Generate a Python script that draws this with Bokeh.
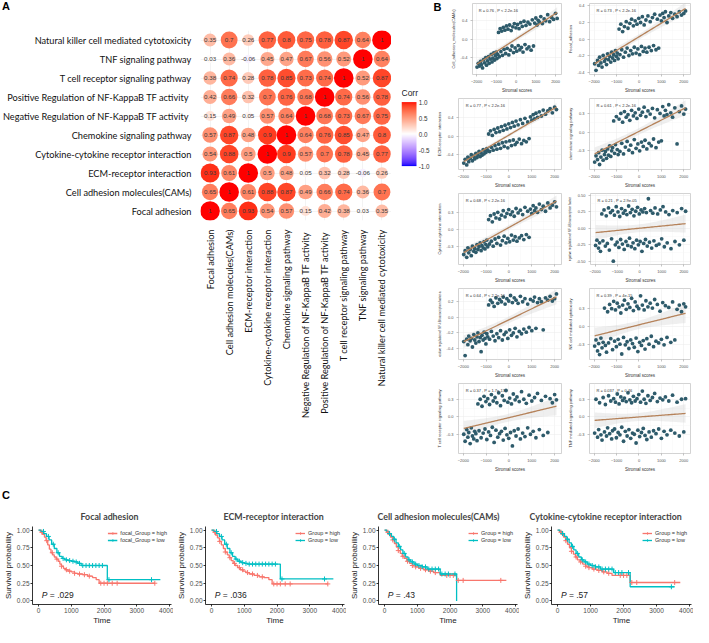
import numpy as np
from bokeh.plotting import figure
from bokeh.models import (ColumnDataSource, LinearColorMapper, Label, FixedTicker, LinearAxis,
                          Range1d, FactorRange, Legend, LegendItem, PrintfTickFormatter,
                          CustomJSTickFormatter, Div)
from bokeh.layouts import row, column
from bokeh.embed import file_html
from bokeh.resources import INLINE
from bokeh.core.properties import value

# ---------------------------------------------------------------- data: panel A
pathways = ["Focal adhesion", "Cell adhesion molecules(CAMs)", "ECM-receptor interaction",
            "Cytokine-cytokine receptor interaction", "Chemokine signaling pathway",
            "Negative Regulation of NF-KappaB  TF activity",
            "Positive Regulation of NF-KappaB  TF activity",
            "T cell receptor signaling pathway", "TNF signaling pathway",
            "Natural killer cell mediated cytotoxicity"]
corr_focal = [1, 0.65, 0.93, 0.54, 0.57, 0.15, 0.42, 0.38, 0.03, 0.35]
corr_cams = [0.65, 1, 0.61, 0.88, 0.87, 0.49, 0.66, 0.74, 0.36, 0.7]
corr_ecm = [0.93, 0.61, 1, 0.5, 0.48, 0.05, 0.32, 0.28, -0.06, 0.26]
corr_cyto = [0.54, 0.88, 0.5, 1, 0.9, 0.57, 0.7, 0.78, 0.45, 0.77]
corr_chemo = [0.57, 0.87, 0.48, 0.9, 1, 0.64, 0.76, 0.85, 0.47, 0.8]
corr_neg = [0.15, 0.49, 0.05, 0.57, 0.64, 1, 0.68, 0.73, 0.67, 0.75]
corr_pos = [0.42, 0.66, 0.32, 0.7, 0.76, 0.68, 1, 0.74, 0.56, 0.78]
corr_tcell = [0.38, 0.74, 0.28, 0.78, 0.85, 0.73, 0.74, 1, 0.52, 0.87]
corr_tnf = [0.03, 0.36, -0.06, 0.45, 0.47, 0.67, 0.56, 0.52, 1, 0.64]
corr_nk = [0.35, 0.7, 0.26, 0.77, 0.8, 0.75, 0.78, 0.87, 0.64, 1]
corr_rows = [corr_focal, corr_cams, corr_ecm, corr_cyto, corr_chemo,
             corr_neg, corr_pos, corr_tcell, corr_tnf, corr_nk]
corr_ticks = [-1.0, -0.5, 0.0, 0.5, 1.0]

# ---------------------------------------------------------------- data: panel B
stromal = [-1980, -1920, -1850, -1800, -1760, -1700, -1650, -1600, -1540, -1500,
           -1450, -1400, -1360, -1310, -1260, -1220, -1180, -1130, -1090, -1050,
           -1010, -970, -930, -890, -850, -810, -770, -730, -690, -650,
           -610, -570, -530, -490, -450, -410, -370, -330, -290, -250,
           -210, -170, -130, -90, -50, -10, 30, 70, 110, 150,
           190, 230, 270, 310, 350, 400, 450, 500, 550, 600,
           650, 700, 760, 820, 880, 940, 1000, 1060, 1120, 1180,
           1250, 1330, 1420, 1500, 1600, 1700, 1800, 1900, 2000, 2080]
y_cams = [-0.60, -0.52, -0.58, -0.48, -0.55, -0.62, -0.44, -0.51, -0.40, -0.56,
          -0.47, -0.38, -0.52, -0.43, -0.33, -0.49, -0.41, -0.30, -0.45, -0.36,
          -0.28, -0.42, -0.33, 0.14, -0.38, 0.22, -0.27, 0.17, -0.35, 0.25,
          -0.22, 0.19, -0.31, 0.28, -0.20, 0.21, -0.34, 0.30, -0.24, 0.18,
          -0.15, 0.26, -0.29, 0.33, -0.19, 0.24, -0.26, 0.31, -0.14, 0.22,
          -0.23, 0.35, -0.18, 0.27, -0.28, 0.38, -0.12, 0.29, -0.21, 0.36,
          -0.17, 0.32, -0.24, 0.41, -0.15, 0.34, 0.45, 0.30, 0.40, 0.36,
          0.48, 0.33, 0.43, 0.39, 0.52, 0.37, 0.46, 0.42, 0.55, 0.44]
y_focal = [-0.30, -0.38, -0.26, -0.32, -0.22, -0.29, -0.34, -0.20, -0.27, -0.24,
           -0.31, -0.18, -0.25, -0.21, -0.28, -0.16, -0.23, -0.19, -0.26, -0.14,
           -0.21, -0.17, -0.24, 0.12, -0.19, 0.18, -0.13, 0.09, -0.22, 0.15,
           -0.16, 0.21, -0.11, 0.13, -0.20, 0.19, -0.14, 0.24, -0.18, 0.16,
           -0.10, 0.22, -0.17, 0.18, -0.12, 0.25, -0.19, 0.20, -0.09, 0.27,
           -0.15, 0.17, -0.11, 0.23, -0.16, 0.28, -0.10, 0.21, -0.14, 0.26,
           -0.08, 0.30, -0.13, 0.24, -0.11, 0.29, 0.22, 0.31, 0.26, 0.33,
           0.20, 0.28, 0.32, 0.25, 0.30, 0.27, 0.33, 0.29, 0.31, 0.34]
y_ecm = [-0.58, -0.50, -0.62, -0.45, -0.55, -0.48, -0.40, -0.53, -0.43, -0.49,
         -0.37, -0.46, -0.40, -0.33, -0.44, -0.36, -0.41, -0.29, -0.38, -0.32,
         -0.35, -0.27, -0.31, 0.05, -0.33, 0.12, -0.24, 0.02, -0.30, 0.15,
         -0.20, 0.08, -0.28, 0.18, -0.17, 0.10, -0.26, 0.21, -0.14, 0.13,
         -0.22, 0.24, -0.12, 0.16, -0.25, 0.27, -0.10, 0.19, -0.20, 0.30,
         -0.08, 0.22, -0.18, 0.33, -0.13, 0.25, -0.06, 0.36, -0.16, 0.28,
         -0.09, 0.39, -0.12, 0.31, -0.05, 0.42, 0.35, 0.47, 0.38, 0.50,
         0.41, 0.53, 0.44, 0.57, 0.48, 0.55, 0.60, 0.51, 0.63, 0.58]
y_chemo = [-0.48, -0.38, -0.44, -0.33, -0.52, -0.40, -0.29, -0.45, -0.36, -0.31,
           -0.42, -0.27, -0.37, -0.22, -0.39, -0.30, -0.25, 0.18, -0.34, -0.20,
           0.25, -0.28, -0.36, 0.21, -0.31, 0.30, -0.18, 0.16, -0.35, 0.33,
           -0.24, 0.24, -0.15, 0.28, -0.29, 0.19, -0.21, 0.35, -0.33, 0.26,
           -0.12, 0.31, -0.26, 0.22, -0.19, 0.37, -0.30, 0.27, -0.16, 0.32,
           -0.23, 0.40, -0.13, 0.25, -0.27, 0.34, -0.18, 0.29, -0.22, 0.38,
           -0.11, 0.23, -0.25, 0.36, -0.16, 0.30, -0.14, 0.41, 0.26, 0.35,
           0.28, 0.44, 0.31, 0.24, 0.39, -0.19, 0.33, 0.42, 0.29, 0.37]
y_cyto = [-0.45, -0.38, -0.50, -0.33, -0.42, -0.36, -0.47, -0.30, -0.39, -0.34,
          -0.41, -0.27, -0.36, -0.31, -0.24, -0.38, -0.29, -0.33, -0.22, -0.35,
          -0.27, -0.19, -0.31, 0.18, -0.26, 0.25, -0.21, 0.14, -0.30, 0.28,
          -0.17, 0.21, -0.25, 0.31, -0.14, 0.19, -0.28, 0.26, -0.20, 0.34,
          -0.12, 0.23, -0.24, 0.29, -0.16, 0.36, -0.22, 0.27, -0.10, 0.32,
          -0.19, 0.24, -0.13, 0.38, -0.21, 0.30, -0.15, 0.35, -0.11, 0.27,
          -0.18, 0.40, -0.09, 0.33, -0.14, 0.37, 0.29, 0.43, 0.34, 0.39,
          0.31, 0.46, 0.36, 0.42, 0.33, 0.48, 0.39, 0.44, 0.50, 0.41]
y_neg = [-0.26, -0.18, -0.30, -0.22, -0.35, 0.22, -0.19, 0.28, -0.27, 0.19,
         -0.23, 0.31, -0.33, 0.24, -0.16, 0.27, -0.50, 0.20, -0.25, 0.33,
         -0.21, 0.25, -0.29, 0.18, -0.17, 0.30, -0.24, 0.23, -0.32, 0.27,
         -0.20, 0.21, -0.26, 0.34, -0.15, 0.24, -0.28, 0.29, -0.22, 0.19,
         -0.31, 0.26, -0.18, 0.32, -0.25, 0.22, -0.20, 0.28, -0.35, 0.25,
         -0.23, 0.30, -0.17, 0.24, -0.27, 0.45, -0.21, 0.27, -0.30, 0.23,
         -0.19, 0.31, -0.26, 0.22, -0.24, 0.28, -0.16, 0.33, -0.28, 0.25,
         -0.22, 0.21, -0.31, 0.27, -0.20, 0.24, -0.25, 0.30, -0.18, 0.26]
y_pos = [-0.31, -0.49, -0.28, -0.35, -0.24, -0.30, -0.27, -0.38, -0.22, -0.29,
         -0.33, -0.25, -0.20, -0.31, -0.26, -0.44, -0.23, -0.29, -0.19, -0.27,
         -0.34, -0.21, -0.25, 0.16, -0.28, 0.22, -0.18, 0.19, -0.24, 0.14,
         -0.30, 0.25, -0.21, 0.18, -0.26, 0.23, -0.17, 0.20, -0.29, 0.26,
         -0.22, 0.17, -0.19, 0.24, -0.27, 0.21, -0.16, 0.28, -0.23, 0.19,
         -0.20, 0.25, -0.14, 0.22, -0.25, 0.18, -0.18, 0.27, -0.21, 0.20,
         -0.15, 0.24, -0.19, 0.17, -0.13, 0.23, -0.17, 0.21, 0.26, -0.14,
         0.19, 0.24, 0.20, -0.16, 0.25, 0.22, 0.27, 0.21, 0.24, 0.30]
y_nk = [-0.32, -0.22, -0.40, -0.28, -0.46, -0.19, -0.35, -0.26, 0.30, -0.31,
        -0.42, 0.24, -0.27, 0.36, -0.20, 0.29, -0.38, 0.41, -0.24, 0.27,
        -0.33, 0.38, -0.21, 0.32, -0.29, 0.22, -0.45, 0.35, -0.18, 0.43,
        -0.30, 0.28, -0.25, 0.37, -0.36, 0.31, -0.22, 0.46, -0.28, 0.26,
        -0.34, 0.40, -0.19, 0.33, -0.41, 0.29, -0.26, 0.50, -0.31, 0.35,
        -0.23, 0.27, -0.37, 0.42, -0.20, 0.32, -0.29, 0.38, -0.16, 0.30,
        -0.33, 0.44, -0.24, 0.36, -0.27, 0.25, -0.21, 0.39, -0.30, 0.34,
        -0.18, 0.31, -0.26, 0.40, -0.22, 0.28, 0.35, 0.24, 0.37, 0.32]
y_tcell = [-0.30, -0.42, -0.22, -0.35, -0.27, -0.46, -0.19, -0.33, -0.38, -0.25,
           -0.29, -0.41, 0.22, -0.24, 0.30, -0.36, 0.18, -0.28, 0.35, -0.21,
           0.26, -0.39, 0.31, -0.26, 0.21, -0.32, 0.38, -0.18, 0.27, -0.44,
           0.33, -0.23, 0.24, -0.35, 0.41, -0.29, 0.19, -0.25, 0.36, -0.40,
           0.28, -0.20, 0.45, -0.31, 0.25, -0.37, 0.32, -0.27, 0.22, -0.50,
           0.39, -0.24, 0.29, -0.33, 0.34, -0.21, 0.26, -0.38, 0.43, -0.28,
           0.30, -0.34, 0.23, -0.19, 0.37, -0.30, 0.27, -0.25, 0.33, -0.36,
           0.40, -0.22, 0.28, -0.32, 0.35, -0.27, 0.31, 0.24, 0.38, 0.29]
y_tnf = [-0.28, 0.30, -0.35, -0.22, 0.24, -0.31, -0.40, 0.33, -0.26, 0.21,
         -0.33, -0.19, 0.36, -0.29, 0.27, -0.38, -0.24, 0.31, -0.21, 0.25,
         -0.36, 0.39, -0.27, 0.22, -0.31, 0.34, -0.18, 0.28, -0.42, 0.32,
         -0.25, 0.26, -0.33, 0.41, -0.22, 0.29, -0.37, 0.24, -0.28, 0.35,
         -0.30, 0.27, -0.45, 0.31, -0.23, 0.38, -0.34, 0.25, -0.27, 0.44,
         -0.20, 0.30, -0.32, 0.23, -0.39, 0.36, -0.26, 0.28, -0.35, 0.33,
         -0.24, 0.40, -0.29, 0.26, -0.21, 0.32, -0.37, 0.29, -0.25, 0.34,
         -0.31, 0.27, -0.23, 0.37, -0.28, 0.25, -0.33, 0.30, -0.26, 0.31]
b_series = [y_cams, y_focal, y_ecm, y_chemo, y_cyto, y_neg, y_pos, y_nk, y_tcell, y_tnf]
b_ylabels = ["Cell_adhesion_molecules(CAMs)", "Focal_adhesion", "ECM-receptor interaction",
             "chemokine signaling pathway", "Cytokine-cytokine interaction",
             "egative regulation of NF-kB transcription factor",
             "ositive regulation of NF-kB transcription factor a",
             "NK cell mediated cytotoxicity", "T cell receptor signaling pathway",
             "TNF mediated signaling pathway"]
b_stats = ["R = 0.76 , P < 2.2e-16", "R = 0.73 , P < 2.2e-16", "R = 0.77 , P < 2.2e-16",
           "R = 0.61 , P < 2.2e-16", "R = 0.68 , P < 2.2e-16", "R = 0.21 , P = 2.9e-05",
           "R = 0.64 , P < 2.2e-16", "R = 0.39 , P = 4e-15", "R = 0.37 , P = 1.7e-13",
           "R = 0.037 , P = 0.46"]
b_ylims = [(-0.76, 0.76), (-0.43, 0.43), (-0.72, 0.82), (-0.60, 0.54), (-0.63, 0.65),
           (-0.55, 0.53), (-0.54, 0.37), (-0.54, 0.62), (-0.63, 0.57), (-0.63, 0.57)]
b_yticks = [[-0.4, 0.0, 0.4], [-0.4, -0.2, 0.0, 0.2, 0.4], [-0.4, 0.0, 0.4], [-0.3, 0.0, 0.3],
            [-0.3, 0.0, 0.3], [-0.5, -0.25, 0.0, 0.25, 0.5], [-0.4, -0.2, 0.0, 0.2],
            [-0.3, 0.0, 0.3], [-0.3, 0.0, 0.3], [-0.3, 0.0, 0.3]]
b_xticks = [-2000, -1000, 0, 1000, 2000]
b_xminor = [-1500, -500, 500, 1500]

# ---------------------------------------------------------------- data: panel C
km_titles = ["Focal adhesion", "ECM-receptor interaction",
             "Cell adhesion molecules(CAMs)", "Cytokine-cytokine receptor interaction"]
km_legend_high = ["focal_Group = high", "Group = high", "Group = high", "Group = high"]
km_legend_low = ["focal_Group = low", "Group = low", "Group = low", "Group = low"]
km_pvals = [".029", ".036", ".43", ".57"]

km_t_high_focal = [0, 60, 120, 180, 230, 280, 330, 380, 430, 480, 540, 600, 650, 700, 760, 820,
                   900, 1000, 1100, 1200, 1350, 1500, 1650, 1760, 1850, 3550]
km_s_high_focal = [1.0, 0.97, 0.94, 0.90, 0.85, 0.79, 0.73, 0.68, 0.65, 0.62, 0.59, 0.56, 0.52,
                   0.49, 0.46, 0.44, 0.42, 0.41, 0.39, 0.38, 0.37, 0.35, 0.33, 0.30, 0.25, 0.25]
km_t_low_focal = [0, 80, 160, 240, 320, 400, 480, 560, 640, 720, 800, 900, 1000, 1100, 1200,
                  1300, 2100, 3720]
km_s_low_focal = [1.0, 0.98, 0.95, 0.91, 0.86, 0.80, 0.74, 0.68, 0.63, 0.60, 0.58, 0.57, 0.56,
                  0.55, 0.53, 0.50, 0.30, 0.30]
km_t_high_ecm = [0, 60, 120, 180, 240, 300, 360, 420, 480, 540, 600, 660, 720, 800, 880, 960,
                 1050, 1150, 1300, 1450, 1600, 1750, 1850, 3550]
km_s_high_ecm = [1.0, 0.97, 0.93, 0.89, 0.84, 0.79, 0.74, 0.69, 0.65, 0.61, 0.57, 0.53, 0.50,
                 0.47, 0.44, 0.42, 0.40, 0.38, 0.36, 0.34, 0.33, 0.30, 0.24, 0.24]
km_t_low_ecm = [0, 80, 160, 240, 320, 400, 480, 560, 640, 720, 800, 900, 1000, 1100, 2100, 3720]
km_s_low_ecm = [1.0, 0.98, 0.95, 0.91, 0.86, 0.80, 0.74, 0.68, 0.63, 0.59, 0.56, 0.54, 0.53,
                0.52, 0.31, 0.31]
km_t_high_cams = [0, 60, 120, 180, 240, 300, 360, 420, 480, 540, 600, 680, 760, 850, 950, 1050,
                  1200, 1350, 1500, 1700, 2200, 3720]
km_s_high_cams = [1.0, 0.97, 0.94, 0.90, 0.86, 0.81, 0.76, 0.71, 0.67, 0.63, 0.60, 0.56, 0.53,
                  0.50, 0.48, 0.46, 0.44, 0.42, 0.40, 0.36, 0.29, 0.29]
km_t_low_cams = [0, 70, 140, 210, 280, 350, 420, 490, 560, 640, 720, 800, 900, 1000, 1150, 1300,
                 1700, 2200]
km_s_low_cams = [1.0, 0.98, 0.95, 0.91, 0.87, 0.82, 0.77, 0.72, 0.67, 0.62, 0.58, 0.55, 0.52,
                 0.50, 0.48, 0.45, 0.38, 0.0]
km_t_high_cyto = [0, 60, 120, 180, 240, 300, 360, 420, 480, 540, 600, 680, 760, 850, 950, 1050,
                  1200, 1350, 1500, 1650, 2200, 3720]
km_s_high_cyto = [1.0, 0.97, 0.94, 0.90, 0.85, 0.80, 0.75, 0.70, 0.66, 0.62, 0.58, 0.55, 0.52,
                  0.49, 0.47, 0.45, 0.43, 0.41, 0.39, 0.36, 0.26, 0.26]
km_t_low_cyto = [0, 70, 140, 210, 280, 350, 420, 490, 560, 640, 720, 800, 900, 1000, 1150, 1300,
                 1700, 2200, 3550]
km_s_low_cyto = [1.0, 0.98, 0.95, 0.91, 0.87, 0.82, 0.77, 0.72, 0.67, 0.62, 0.58, 0.55, 0.52,
                 0.50, 0.48, 0.45, 0.40, 0.20, 0.20]
km_cens_high = [100, 250, 420, 560, 700, 850, 950, 1100, 1250, 1400, 1550, 1900, 2000, 2100,
                2250, 2400, 3550]
km_cens_low = [150, 300, 450, 600, 750, 850, 950, 1050, 1150, 1250, 1350, 1450, 1550, 1650,
               1750, 1850, 1950, 2150, 3450]
km_high = [(km_t_high_focal, km_s_high_focal), (km_t_high_ecm, km_s_high_ecm),
           (km_t_high_cams, km_s_high_cams), (km_t_high_cyto, km_s_high_cyto)]
km_low = [(km_t_low_focal, km_s_low_focal), (km_t_low_ecm, km_s_low_ecm),
          (km_t_low_cams, km_s_low_cams), (km_t_low_cyto, km_s_low_cyto)]
km_yticks = [0.0, 0.25, 0.5, 0.75, 1.0]
km_xticks = [0, 1000, 2000, 3000, 4000]

# ---------------------------------------------------------------- helpers / style
HUMAN = "Lato"
ARIAL = "Liberation Sans"
RED_KM = "#F8766D"
CYAN_KM = "#00BFC4"


def _lin(c):
    c = c / 255.0
    return c / 12.92 if c <= 0.04045 else ((c + 0.055) / 1.055) ** 2.4


def _gam(c):
    c = 12.92 * c if c <= 0.0031308 else 1.055 * max(c, 0) ** (1 / 2.4) - 0.055
    return int(round(min(1.0, max(0.0, c)) * 255))


WP = (0.95047, 1.0, 1.08883)


def rgb_to_lab(rgb):
    r, g, b = (_lin(float(v)) for v in rgb)
    X = 0.4124 * r + 0.3576 * g + 0.1805 * b
    Y = 0.2126 * r + 0.7152 * g + 0.0722 * b
    Z = 0.0193 * r + 0.1192 * g + 0.9505 * b

    def f(t):
        return t ** (1 / 3) if t > 0.008856 else 7.787 * t + 16 / 116
    fx, fy, fz = f(X / WP[0]), f(Y / WP[1]), f(Z / WP[2])
    return (116 * fy - 16, 500 * (fx - fy), 200 * (fy - fz))


def lab_to_hex(L, a, b):
    fy = (L + 16) / 116
    fx = fy + a / 500
    fz = fy - b / 200

    def finv(t):
        return t ** 3 if t ** 3 > 0.008856 else (t - 16 / 116) / 7.787
    X, Y, Z = WP[0] * finv(fx), WP[1] * finv(fy), WP[2] * finv(fz)
    r = 3.2406 * X - 1.5372 * Y - 0.4986 * Z
    g = -0.9689 * X + 1.8758 * Y + 0.0415 * Z
    bb = 0.0557 * X - 0.2040 * Y + 1.0570 * Z
    return "#%02x%02x%02x" % (_gam(r), _gam(g), _gam(bb))


lab_blue, lab_white, lab_red = rgb_to_lab((0, 0, 255)), rgb_to_lab((255, 255, 255)), rgb_to_lab((255, 0, 0))
palette = []
for i in range(256):
    t = -1 + 2 * i / 255
    if t < 0:
        a, b, fr = lab_blue, lab_white, t + 1
    else:
        a, b, fr = lab_white, lab_red, t
    palette.append(lab_to_hex(*[a[k] + (b[k] - a[k]) * fr for k in range(3)]))
mapper = LinearColorMapper(palette=palette, low=-1, high=1)

# ---------------------------------------------------------------- panel A
H_A = 454          # figure height below the "A" header
TOP_A, BOT_A = 10, 254
xs_f, ys_f, vals = [], [], []
for ri, rowvals in enumerate(corr_rows):
    for ci, v in enumerate(rowvals):
        xs_f.append(pathways[ci])
        ys_f.append(pathways[ri])
        vals.append(v)
absv = np.abs(np.array(vals, float))
amin, amax = absv.min(), absv.max()
dmin, dmax = 7.8, 19.6
sizes = np.sqrt(dmin ** 2 + (dmax ** 2 - dmin ** 2) * (absv - amin) / (amax - amin))
labels = [f"{v:g}" for v in vals]
srcA = ColumnDataSource(dict(x=xs_f, y=ys_f, v=vals, d=sizes, lab=labels))

pA = figure(width=391, height=H_A, x_range=FactorRange(*pathways), y_range=FactorRange(*pathways),
            output_backend="svg", toolbar_location=None,
            min_border_left=194, min_border_right=0, min_border_top=TOP_A, min_border_bottom=BOT_A)
pA.outline_line_color = None
pA.grid.grid_line_color = "#EBEBEB"
pA.grid.grid_line_width = 0.6
for ax in (pA.xaxis, pA.yaxis):
    ax.axis_line_color = None
    ax.major_tick_line_color = None
    ax.minor_tick_line_color = None
    ax.major_label_text_font = HUMAN
    ax.major_label_text_font_size = "9.2px"
    ax.major_label_text_color = "#111111"
    ax.major_label_standoff = 3
pA.xaxis.major_label_orientation = np.pi / 2
pA.scatter(x="x", y="y", size="d", source=srcA, line_color=None,
           fill_color={"field": "v", "transform": mapper})
pA.text(x="x", y="y", text="lab", source=srcA, text_align="center", text_baseline="middle",
        text_font=value(ARIAL), text_font_size="6.2px", text_color="#3a3a3a")

# colour bar: its own plot with identical frame height; bar placed via the y range
frame_h = H_A - TOP_A - BOT_A            # 190 px
bar_top_px, bar_bot_px = 71.6, 135.6      # distance of bar ends below frame top
u = 2.0 / (bar_bot_px - bar_top_px)
cb_hi = 1 + bar_top_px * u
cb_lo = -1 - (frame_h - bar_bot_px) * u
cbf = figure(width=39, height=H_A, x_range=Range1d(0, 29 / 15), y_range=Range1d(cb_lo, cb_hi),
             output_backend="svg", toolbar_location=None,
             min_border_left=10, min_border_right=0, min_border_top=TOP_A, min_border_bottom=BOT_A)
grad = np.linspace(-1, 1, 256).reshape(256, 1)
cbf.image(image=[grad], x=0, y=-1, dw=1, dh=2, color_mapper=mapper)
cbf.outline_line_color = None
cbf.grid.grid_line_color = None
cbf.xaxis.visible = False
cbf.yaxis.visible = False
cbf.text(x=[1.15] * len(corr_ticks), y=corr_ticks, text=["%.1f" % t for t in corr_ticks],
         text_font=value(ARIAL), text_font_size="6.3px", text_color="#333333",
         text_baseline="middle", text_align="left")
cbf.add_layout(Label(x=0, y=1, y_offset=4, text="Corr", text_font=ARIAL, text_font_size="8.5px",
                     text_color="#222222", text_baseline="bottom"))

divA = Div(text="<b>A</b>", width=430, height=20, margin=(0, 0, 0, 0),
           styles={"font-family": "'Liberation Sans', Arial, sans-serif", "font-size": "11px",
                   "padding-left": "2px", "line-height": "12px", "color": "#000"})
panelA = column(divA, row(pA, cbf))

# ---------------------------------------------------------------- panel B
XR = (-2210, 2300)
xarr = np.array(stromal, float)


def scatter_panel(i, w, h, left_border):
    lo, hi = b_ylims[i]
    p = figure(width=w, height=h, x_range=Range1d(*XR), y_range=Range1d(lo, hi),
               output_backend="svg", toolbar_location=None,
               min_border_left=left_border, min_border_right=3, min_border_top=3, min_border_bottom=16)
    p.outline_line_color = "#C8C8C8"
    p.outline_line_width = 0.8
    p.grid.grid_line_color = "#EBEBEB"
    p.grid.grid_line_width = 0.5
    p.grid.minor_grid_line_color = "#F5F5F5"
    p.grid.minor_grid_line_width = 0.4
    yt = b_yticks[i]
    p.xaxis.ticker = FixedTicker(ticks=b_xticks, minor_ticks=b_xminor)
    p.yaxis.ticker = FixedTicker(ticks=yt, minor_ticks=[(yt[k] + yt[k + 1]) / 2 for k in range(len(yt) - 1)])
    fmt = "%.2f" if any(abs(t * 10 - round(t * 10)) > 1e-9 for t in yt) else "%.1f"
    p.yaxis.formatter = PrintfTickFormatter(format=fmt)
    for ax in (p.xaxis, p.yaxis):
        ax.axis_line_color = None
        ax.major_tick_line_color = "#888888"
        ax.major_tick_line_width = 0.5
        ax.major_tick_out = 2
        ax.major_tick_in = 0
        ax.minor_tick_line_color = None
        ax.major_label_text_font = ARIAL
        ax.major_label_text_font_size = "4px"
        ax.major_label_text_color = "#555555"
        ax.major_label_standoff = 1
        ax.axis_label_text_font = ARIAL
        ax.axis_label_text_font_style = "normal"
        ax.axis_label_text_color = "#333333"
    p.xaxis.axis_label = "Stromal scores"
    p.xaxis.axis_label_text_font_size = "4.5px"
    p.xaxis.axis_label_standoff = 2
    p.yaxis.axis_label = b_ylabels[i]
    p.yaxis.axis_label_text_font_size = "3.1px" if len(b_ylabels[i]) > 34 else "4px"
    p.yaxis.axis_label_standoff = 2
    yarr = np.array(b_series[i], float)
    b1, b0 = np.polyfit(xarr, yarr, 1)
    xg = np.linspace(xarr.min(), xarr.max(), 60)
    fit = b0 + b1 * xg
    n = len(xarr)
    resid = yarr - (b0 + b1 * xarr)
    s = np.sqrt(resid @ resid / (n - 2))
    sxx = ((xarr - xarr.mean()) ** 2).sum()
    se = s * np.sqrt(1 / n + (xg - xarr.mean()) ** 2 / sxx) * 1.99
    p.varea(x=xg, y1=fit - se, y2=fit + se, fill_color="#C9C9C9", fill_alpha=0.3)
    p.scatter(x=xarr, y=yarr, size=3.8, fill_color="#2E5B6B", line_color=None)
    p.line(x=xg, y=fit, line_color="#B5825A", line_width=1.3)
    p.add_layout(Label(x=XR[0] + 0.07 * (XR[1] - XR[0]), y=hi - 0.1 * (hi - lo), text=b_stats[i],
                       text_font=ARIAL, text_font_size="4px", text_color="#333333",
                       text_baseline="middle"))
    return p


row_h = [95, 95, 95, 95, 94]
b_rows = []
for r in range(5):
    pl = scatter_panel(2 * r, 134, row_h[r], 28)
    pr = scatter_panel(2 * r + 1, 129, row_h[r], 24)
    if r == 0:
        lo, hi = b_ylims[0]
        tag = LinearAxis(ticker=FixedTicker(ticks=[hi - 0.055 * (hi - lo)]),
                         formatter=CustomJSTickFormatter(code="return 'B'"),
                         axis_line_color=None, major_tick_line_color=None, minor_tick_line_color=None,
                         major_label_text_font=ARIAL, major_label_text_font_style="bold",
                         major_label_text_font_size="11px", major_label_text_color="#000000",
                         major_label_standoff=0)
        pl.add_layout(tag, "left")
    b_rows.append(row(pl, pr))
gridB = column(*b_rows)

# ---------------------------------------------------------------- panel C
title_offsets = [48, 18, -1, -22]


def surv_at(t, s, q):
    idx = np.searchsorted(np.array(t, float), q, side="right") - 1
    return [s[k] for k in idx]


def km_panel(k, w):
    h = 125
    p = figure(width=w, height=h, x_range=Range1d(-185, 4060), y_range=Range1d(-0.05, 1.05),
               output_backend="svg", toolbar_location=None,
               min_border_left=26, min_border_right=2, min_border_top=24, min_border_bottom=18)
    p.outline_line_color = None
    p.grid.grid_line_color = None
    p.title.text = km_titles[k]
    p.title.align = "left"
    p.title.offset = title_offsets[k]
    p.title.text_font = HUMAN
    p.title.text_font_style = "bold"
    p.title.text_font_size = "8.8px"
    p.title.standoff = 9
    p.xaxis.ticker = FixedTicker(ticks=km_xticks)
    p.yaxis.ticker = FixedTicker(ticks=km_yticks)
    p.yaxis.formatter = PrintfTickFormatter(format="%.2f")
    for ax in (p.xaxis, p.yaxis):
        ax.axis_line_color = "#000000"
        ax.axis_line_width = 0.8
        ax.major_tick_line_color = "#000000"
        ax.major_tick_line_width = 0.8
        ax.major_tick_out = 2
        ax.major_tick_in = 0
        ax.minor_tick_line_color = None
        ax.major_label_text_font = ARIAL
        ax.major_label_text_font_size = "6.5px"
        ax.major_label_text_color = "#4D4D4D"
        ax.major_label_standoff = 1
        ax.axis_label_text_font = ARIAL
        ax.axis_label_text_font_style = "normal"
        ax.axis_label_text_font_size = "8px"
        ax.axis_label_text_color = "#222222"
    p.xaxis.axis_label = "Time"
    p.xaxis.axis_label_standoff = 0
    p.yaxis.axis_label = "Survival probability"
    p.yaxis.axis_label_standoff = 1
    th, sh = km_high[k]
    tl, sl = km_low[k]
    rh = p.step(x=th, y=sh, mode="after", line_color=RED_KM, line_width=1.3)
    rl = p.step(x=tl, y=sl, mode="after", line_color=CYAN_KM, line_width=1.3)
    ch = [c for c in km_cens_high if c <= th[-1]]
    cl = [c for c in km_cens_low if c <= tl[-1]]
    mh = p.scatter(x=ch, y=surv_at(th, sh, ch), marker="cross", size=5, line_color=RED_KM, line_width=1)
    ml = p.scatter(x=cl, y=surv_at(tl, sl, cl), marker="cross", size=5, line_color=CYAN_KM, line_width=1)
    leg = Legend(items=[LegendItem(label=km_legend_high[k], renderers=[rh, mh]),
                        LegendItem(label=km_legend_low[k], renderers=[rl, ml])],
                 location="top_right", label_text_font=ARIAL, label_text_font_size="5.5px",
                 label_text_color="#333333", glyph_width=10, glyph_height=6, label_height=6,
                 spacing=1, padding=1, margin=4, label_standoff=3,
                 border_line_color=None, background_fill_alpha=0)
    p.add_layout(leg)
    p.add_layout(Label(x=100, y=0.09, text="P", text_font=ARIAL, text_font_style="italic",
                       text_font_size="8.5px", text_baseline="middle", text_color="#222222"))
    p.add_layout(Label(x=100, y=0.09, x_offset=8, text="= " + km_pvals[k], text_font=ARIAL,
                       text_font_size="8.5px", text_baseline="middle", text_color="#222222"))
    return p


c_widths = [173, 173, 173, 174]
c_plots = [km_panel(k, c_widths[k]) for k in range(4)]
divC = Div(text="<b>C</b>", width=693, height=28, margin=(0, 0, 0, 0),
           styles={"font-family": "'Liberation Sans', Arial, sans-serif", "font-size": "11px",
                   "padding-left": "2px", "padding-top": "15px", "line-height": "12px",
                   "color": "#000"})

layout = column(row(panelA, gridB), divC, row(*c_plots))
open("out.html", "w").write(file_html(layout, INLINE))
